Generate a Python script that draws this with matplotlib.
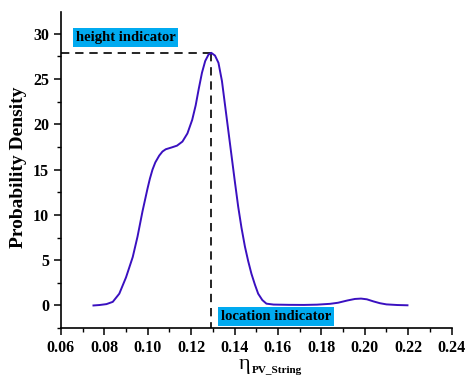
import matplotlib
matplotlib.use("Agg")
import matplotlib.pyplot as plt
from matplotlib.ticker import MultipleLocator

plt.rcParams['font.family'] = ['Liberation Serif', 'DejaVu Serif']

eta = [0.0750, 0.0778, 0.0810, 0.0839, 0.0869, 0.0900, 0.0931, 0.0953, 0.0976, 0.0999,
       0.1010, 0.1022, 0.1035, 0.1053, 0.1068, 0.1083, 0.1110, 0.1135, 0.1160, 0.1183,
       0.1205, 0.1221, 0.1235, 0.1250, 0.1265, 0.1280, 0.1293, 0.1310, 0.1326, 0.1342,
       0.1357, 0.1372, 0.1387, 0.1402, 0.1417, 0.1432, 0.1448, 0.1463, 0.1478, 0.1494,
       0.1509, 0.1528, 0.1547, 0.1580, 0.1650, 0.1720, 0.1780, 0.1840, 0.1877, 0.1920,
       0.1955, 0.1983, 0.2010, 0.2040, 0.2070, 0.2100, 0.2150, 0.2197]
density = [0.0, 0.05, 0.15, 0.4, 1.3, 3.1, 5.35, 7.6, 10.4, 12.9,
           14.0, 15.0, 15.8, 16.55, 17.0, 17.25, 17.45, 17.65, 18.1, 19.0,
           20.5, 22.1, 23.9, 25.7, 27.0, 27.7, 27.9, 27.6, 26.8, 24.8,
           22.0, 19.2, 16.4, 13.6, 10.9, 8.6, 6.5, 4.9, 3.5, 2.3,
           1.3, 0.6, 0.2, 0.1, 0.07, 0.06, 0.09, 0.18, 0.3, 0.55,
           0.72, 0.76, 0.68, 0.45, 0.25, 0.12, 0.05, 0.02]
peak_x = 0.1293
peak_y = 27.9
x_ticks = [0.06, 0.08, 0.10, 0.12, 0.14, 0.16, 0.18, 0.20, 0.22, 0.24]
y_ticks = [0, 5, 10, 15, 20, 25, 30]

fig = plt.figure(figsize=(4.65, 3.78), dpi=100)
ax = fig.add_axes([0.131, 0.132, 0.840, 0.836])

ax.plot(eta, density, color='#3A10C0', lw=1.4, zorder=3)
ax.plot([0.06, peak_x], [peak_y, peak_y], color='black', lw=1.2, ls=(0, (5, 3.5)), zorder=2)
ax.plot([peak_x, peak_x], [peak_y, -2.5], color='black', lw=1.2, ls=(0, (5, 3.5)), zorder=2)

ax.text(0.0668, 29.6, 'height indicator', fontsize=10.5, fontweight='bold', va='center', ha='left',
        bbox=dict(facecolor='#00AAF0', edgecolor='none', pad=2.2), zorder=4)
ax.text(0.1338, -1.2, 'location indicator', fontsize=10.5, fontweight='bold', va='center', ha='left',
        bbox=dict(facecolor='#00AAF0', edgecolor='none', pad=2.2), zorder=4)

ax.set_xlim(0.06, 0.24)
ax.set_ylim(-2.5, 32.4)
ax.set_xticks(x_ticks)
ax.set_xticklabels(['%.2f' % v for v in x_ticks])
ax.set_yticks(y_ticks)
ax.xaxis.set_minor_locator(MultipleLocator(0.01))
ax.yaxis.set_minor_locator(MultipleLocator(2.5))
for s in ['top', 'right']:
    ax.spines[s].set_visible(False)
for s in ['left', 'bottom']:
    ax.spines[s].set_linewidth(1.2)
ax.tick_params(which='major', direction='out', length=5, width=1.1, labelsize=11.5)
ax.tick_params(which='minor', direction='out', length=3, width=1.0)
for lab in ax.get_xticklabels() + ax.get_yticklabels():
    lab.set_fontweight('bold')

ax.set_ylabel('Probability Density', fontsize=14, fontweight='bold')
ax.yaxis.set_label_coords(-0.086, 0.51)

# x-axis label: eta with bold subscript
fig.text(0.514, 1 - 368.5 / 378, 'η', fontsize=16, va='baseline', ha='left')
fig.text(0.541, 1 - 373 / 378, 'PV_String', fontsize=8, fontweight='bold', va='baseline', ha='left')

fig.savefig('out.png', dpi=100)
